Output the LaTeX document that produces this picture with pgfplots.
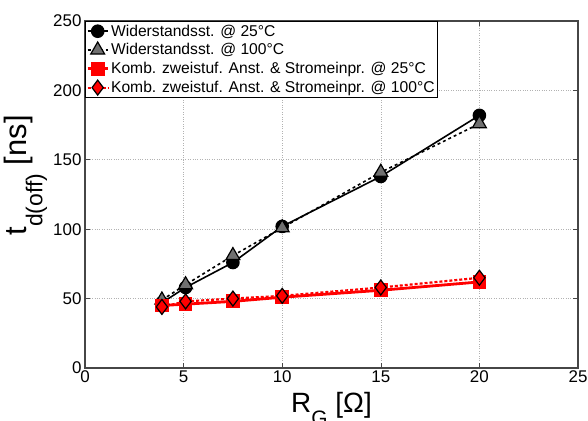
\documentclass[border=0pt]{standalone}
\usepackage{pgfplots}
\pgfplotsset{compat=1.18}
\usepackage{fontspec}
\setmainfont{Liberation Sans}
\definecolor{trigray}{RGB}{112,112,112}
\definecolor{axgray}{RGB}{70,70,70}
\begin{document}
\begin{tikzpicture}[x=1bp,y=1bp]
\begin{axis}[
  name=ax,
  scale only axis,
  width=493bp, height=347bp,
  xmin=0, xmax=25, ymin=0, ymax=250,
  xtick={0,5,10,15,20,25},
  ytick={0,50,100,150,200,250},
  tick align=inside,
  major tick length=5bp,
  tick style={axgray, line width=0.6bp},
  axis line style={axgray, line width=1.2bp},
  grid=major,
  major grid style={gray!60, dotted, line width=0.6bp},
  /pgf/number format/assume math mode=true,
  ticklabel style={font=\fontsize{17}{19}\selectfont},
  xticklabel style={yshift=1bp},
  xlabel={R\raisebox{-0.5em}{\fontsize{21}{21}\selectfont G} [Ω]},
  ylabel={t\raisebox{-0.5em}{\fontsize{23}{23}\selectfont d(off)} [ns]},
  xlabel style={font=\fontsize{28}{30}\selectfont, at={(axis description cs:0.5,0)}, anchor=base, yshift=-44bp},
  ylabel style={font=\fontsize{31}{33}\selectfont, at={(axis description cs:-0.118,0.555)}, anchor=base},
  legend style={at={(0,1)}, anchor=north west, draw=black, line width=0.6bp, fill=white,
    font=\fontsize{15.7}{17}\selectfont, legend cell align=left,
    inner xsep=1bp, inner ysep=1.5bp, row sep=2bp,
    /tikz/every even column/.append style={column sep=0bp}},
  legend image code/.code={
    \draw[mark repeat=2,mark phase=2] plot coordinates {(0bp,0bp) (10bp,0bp) (20bp,0bp)};},
]
\addplot[black, line width=1.6bp, mark=*, mark size=6bp, mark options={solid, fill=black, draw=black}]
  coordinates {(3.9,47) (5.1,58) (7.5,76) (10,102) (15,138) (20,182)};
\addlegendentry{Widerstandsst. @ 25°C}
\addplot[black, line width=1.6bp, dashed, mark=triangle*, mark size=8bp, mark options={solid, fill=trigray, draw=black, line width=1.2bp}]
  coordinates {(3.9,49) (5.1,60) (7.5,81) (10,101) (15,141) (20,176)};
\addlegendentry{Widerstandsst. @ 100°C}
\addplot[red, line width=2.8bp, mark=square*, mark size=5.5bp, mark options={solid, fill=red, draw=red}]
  coordinates {(3.9,45) (5.1,46) (7.5,48) (10,51) (15,56) (20,62)};
\addlegendentry{Komb. zweistuf. Anst. \& Stromeinpr. @ 25°C}
\addplot[red, line width=2.2bp, densely dashed, mark=diamond*, mark size=7.5bp, mark options={solid, fill=red, draw=black, line width=1.2bp}]
  coordinates {(3.9,44) (5.1,48) (7.5,50) (10,52) (15,58) (20,65)};
\addlegendentry{Komb. zweistuf. Anst. \& Stromeinpr. @ 100°C}
\end{axis}
\pgfresetboundingbox
\path[use as bounding box] ([xshift=-85bp,yshift=-53bp]ax.south west) rectangle ([xshift=10bp,yshift=21bp]ax.north east);
\end{tikzpicture}
\end{document}
